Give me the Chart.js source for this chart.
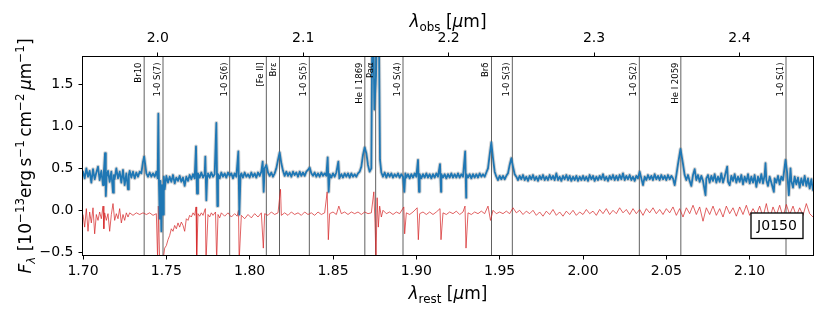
<!DOCTYPE html>
<html><head><meta charset="utf-8">
<script src="https://cdn.jsdelivr.net/npm/chart.js@4.4.0/dist/chart.umd.min.js"></script>
<style>html,body{margin:0;padding:0;background:#fff;}canvas{display:block;}</style>
</head><body>
<canvas id="c" width="830" height="312"></canvas>
<script>
// ---------------- data ----------------
const redshift = 0.1462;
const restRange = [1.70, 2.138];
const fluxRange = [-0.532, 1.825];

const restTicks = [1.70, 1.75, 1.80, 1.85, 1.90, 1.95, 2.00, 2.05, 2.10];
const restTickLabels = ['1.70','1.75','1.80','1.85','1.90','1.95','2.00','2.05','2.10'];
const obsTicks = [2.0, 2.1, 2.2, 2.3, 2.4];
const obsTickLabels = ['2.0','2.1','2.2','2.3','2.4'];
const fluxTicks = [-0.5, 0.0, 0.5, 1.0, 1.5];
const fluxTickLabels = ['\u22120.5','0.0','0.5','1.0','1.5'];

const lineNames = ['Br10','1-0 S(7)','1-0 S(6)','[Fe II]','Br\u03b5','1-0 S(5)','He I 1869','Pa\u03b1','1-0 S(4)','Br\u03b4','1-0 S(3)','1-0 S(2)','He I 2059','1-0 S(1)'];
const lineWaves = [1.7367, 1.7480, 1.7880, 1.8100, 1.8179, 1.8358, 1.8691, 1.8756, 1.8920, 1.9451, 1.9576, 2.0338, 2.0587, 2.1218];

const objectName = 'J0150';

// observed spectrum [rest wavelength (um), F_lambda]
const fluxSpectrum = [
[1.700,.46],[1.701,.38],[1.702,.50],[1.703,.40],[1.704,.47],[1.705,.33],[1.706,.49],[1.707,.37],[1.708,.45],[1.709,.52],
[1.710,.36],[1.711,.47],[1.712,.30],[1.7125,.45],[1.7132,.68],[1.7137,.17],[1.7142,.40],[1.715,.47],[1.716,.34],[1.717,.46],
[1.718,.21],[1.7185,.42],[1.719,.37],[1.720,.50],[1.721,.38],[1.722,.46],[1.723,.33],[1.724,.48],[1.725,.30],[1.726,.44],
[1.727,.25],[1.7275,.42],[1.728,.47],[1.729,.39],[1.730,.46],[1.731,.38],[1.732,.45],[1.733,.40],[1.734,.46],[1.735,.44],
[1.736,.58],[1.7367,.64],[1.7375,.52],[1.738,.44],[1.739,.40],[1.740,.45],[1.741,.40],[1.742,.44],[1.743,.40],[1.744,.46],
[1.7448,.38],[1.7452,1.15],[1.7456,.30],[1.746,-.10],[1.7465,.35],[1.747,-.25],[1.7475,.30],[1.748,-.05],[1.7485,.40],[1.749,.25],
[1.750,.41],[1.751,.33],[1.752,.40],[1.753,.34],[1.754,.42],[1.755,.32],[1.756,.39],[1.757,.35],[1.758,.41],[1.759,.34],
[1.760,.39],[1.761,.29],[1.762,.40],[1.763,.35],[1.764,.42],[1.765,.37],[1.766,.43],[1.767,.38],[1.7678,.76],[1.7684,.20],
[1.769,.44],[1.770,.39],[1.771,.45],[1.772,.39],[1.773,.43],[1.7734,.64],[1.7740,.12],[1.7745,.41],[1.775,.44],[1.776,.39],
[1.777,.45],[1.778,.40],[1.779,.43],[1.7800,1.04],[1.7806,.05],[1.781,.43],[1.782,.38],[1.783,.45],[1.784,.40],[1.785,.44],
[1.786,.39],[1.787,.45],[1.788,.41],[1.789,.44],[1.790,.38],[1.791,.44],[1.792,.40],[1.7932,.70],[1.7938,-.05],[1.7945,.41],
[1.795,.44],[1.796,.39],[1.797,.45],[1.798,.40],[1.799,.43],[1.800,.39],[1.801,.45],[1.802,.40],[1.803,.44],[1.804,.39],
[1.805,.45],[1.806,.41],[1.807,.46],[1.8078,.58],[1.8084,.22],[1.809,.50],[1.810,.54],[1.811,.45],[1.812,.41],[1.813,.45],
[1.814,.40],[1.815,.44],[1.816,.50],[1.817,.60],[1.818,.69],[1.819,.56],[1.820,.47],[1.821,.41],[1.822,.46],[1.823,.41],
[1.824,.45],[1.825,.40],[1.826,.46],[1.827,.42],[1.828,.45],[1.829,.40],[1.830,.46],[1.831,.41],[1.832,.45],[1.833,.41],
[1.834,.46],[1.835,.48],[1.836,.51],[1.837,.44],[1.838,.41],[1.839,.45],[1.840,.40],[1.841,.44],[1.842,.40],[1.843,.45],
[1.844,.41],[1.845,.44],[1.846,.41],[1.8468,.63],[1.8474,.22],[1.848,.43],[1.849,.39],[1.850,.44],[1.851,.40],[1.852,.45],
[1.8532,.58],[1.8538,.38],[1.855,.43],[1.856,.39],[1.857,.44],[1.858,.40],[1.859,.44],[1.860,.39],[1.861,.44],[1.862,.40],
[1.863,.43],[1.864,.40],[1.865,.44],[1.866,.46],[1.867,.52],[1.868,.66],[1.869,.75],[1.870,.68],[1.871,.54],[1.872,.46],
[1.873,.50],[1.8738,3.0],[1.8748,1.2],[1.8758,1.6],[1.8772,3.0],[1.8782,.60],[1.879,.45],[1.880,.40],[1.881,.45],[1.882,.39],
[1.883,.44],[1.884,.40],[1.885,.44],[1.886,.39],[1.887,.43],[1.888,.40],[1.889,.44],[1.890,.39],[1.891,.43],[1.892,.40],
[1.8928,.22],[1.8934,.44],[1.894,.39],[1.895,.43],[1.896,.38],[1.897,.43],[1.898,.39],[1.899,.44],[1.900,.40],[1.9010,.60],
[1.9016,.22],[1.902,.43],[1.903,.38],[1.904,.43],[1.905,.39],[1.906,.44],[1.907,.39],[1.908,.43],[1.909,.38],[1.910,.43],
[1.911,.39],[1.912,.44],[1.913,.40],[1.9142,.55],[1.9148,.22],[1.915,.43],[1.916,.39],[1.917,.43],[1.918,.38],[1.919,.43],
[1.920,.39],[1.921,.44],[1.922,.39],[1.923,.43],[1.924,.39],[1.925,.44],[1.926,.39],[1.927,.43],[1.928,.40],[1.9293,.70],
[1.9299,.15],[1.930,.43],[1.931,.39],[1.932,.43],[1.933,.38],[1.934,.43],[1.935,.39],[1.936,.43],[1.937,.39],[1.938,.44],
[1.939,.40],[1.940,.43],[1.941,.40],[1.942,.45],[1.943,.50],[1.944,.66],[1.9450,.81],[1.946,.62],[1.947,.46],[1.948,.40],
[1.949,.36],[1.950,.41],[1.951,.37],[1.952,.41],[1.953,.37],[1.954,.41],[1.955,.44],[1.956,.54],[1.957,.62],[1.958,.52],
[1.959,.43],[1.960,.40],[1.961,.36],[1.962,.41],[1.963,.37],[1.964,.42],[1.965,.36],[1.966,.40],[1.967,.35],[1.968,.41],
[1.969,.37],[1.970,.42],[1.971,.36],[1.972,.40],[1.973,.35],[1.974,.41],[1.975,.37],[1.976,.42],[1.977,.36],[1.978,.40],
[1.979,.36],[1.980,.42],[1.981,.37],[1.982,.41],[1.983,.36],[1.984,.44],[1.985,.36],[1.986,.40],[1.987,.35],[1.988,.41],
[1.989,.37],[1.990,.42],[1.991,.36],[1.992,.41],[1.993,.35],[1.994,.40],[1.995,.36],[1.996,.41],[1.997,.35],[1.998,.40],
[1.999,.36],[2.000,.41],[2.001,.36],[2.002,.40],[2.003,.35],[2.004,.42],[2.005,.37],[2.006,.41],[2.007,.35],[2.008,.40],
[2.009,.36],[2.010,.41],[2.011,.37],[2.012,.43],[2.013,.36],[2.014,.40],[2.015,.35],[2.016,.41],[2.017,.37],[2.018,.42],
[2.019,.36],[2.020,.41],[2.021,.36],[2.022,.42],[2.023,.37],[2.024,.44],[2.025,.36],[2.026,.41],[2.027,.37],[2.028,.42],
[2.029,.36],[2.030,.40],[2.031,.35],[2.032,.41],[2.033,.38],[2.034,.46],[2.035,.38],[2.036,.30],[2.037,.40],[2.038,.36],
[2.039,.42],[2.040,.37],[2.041,.41],[2.042,.36],[2.043,.43],[2.044,.37],[2.045,.41],[2.046,.36],[2.047,.42],[2.048,.37],
[2.049,.41],[2.050,.36],[2.051,.42],[2.052,.37],[2.053,.41],[2.054,.38],[2.055,.30],[2.056,.42],[2.057,.55],[2.0585,.73],
[2.060,.55],[2.061,.42],[2.062,.36],[2.063,.42],[2.064,.35],[2.065,.29],[2.066,.42],[2.067,.49],[2.068,.36],[2.069,.42],
[2.070,.34],[2.071,.41],[2.072,.35],[2.0735,.18],[2.074,.38],[2.075,.42],[2.076,.33],[2.077,.41],[2.078,.35],[2.079,.43],
[2.080,.33],[2.081,.40],[2.082,.34],[2.083,.44],[2.084,.33],[2.085,.40],[2.0865,.52],[2.087,.34],[2.088,.30],[2.089,.41],
[2.090,.35],[2.091,.43],[2.092,.33],[2.093,.40],[2.094,.34],[2.095,.42],[2.096,.31],[2.097,.40],[2.098,.34],[2.099,.43],
[2.100,.32],[2.101,.40],[2.102,.33],[2.103,.42],[2.104,.28],[2.105,.40],[2.106,.33],[2.107,.43],[2.108,.32],[2.109,.42],
[2.1095,.56],[2.110,.36],[2.111,.29],[2.112,.40],[2.113,.33],[2.1145,.22],[2.115,.38],[2.116,.33],[2.117,.41],[2.118,.31],
[2.119,.40],[2.120,.36],[2.1215,.60],[2.1225,.45],[2.1235,.18],[2.1245,.50],[2.125,.35],[2.126,.27],[2.127,.40],[2.128,.31],
[2.129,.39],[2.130,.27],[2.131,.38],[2.132,.30],[2.133,.41],[2.134,.29],[2.135,.38],[2.136,.26],[2.137,.37],[2.138,.24]
];

// residual spectrum [rest wavelength (um), residual]
const residualSpectrum = [
[1.700,-0.05],[1.701,-0.20],[1.702,0.02],[1.703,-0.25],[1.704,-0.02],[1.705,-0.15],[1.706,0.03],[1.707,-0.28],[1.708,-0.05],[1.709,-0.12],
[1.710,-0.02],[1.711,-0.10],[1.712,0.05],[1.7125,-0.22],[1.713,-0.03],[1.714,-0.12],[1.715,-0.04],[1.716,-0.25],[1.717,-0.05],[1.718,0.08],
[1.719,-0.12],[1.720,-0.04],[1.721,-0.10],[1.722,0.02],[1.723,-0.15],[1.724,-0.05],[1.725,-0.12],[1.726,-0.03],[1.727,-0.08],[1.728,-0.03],
[1.730,-0.06],[1.732,-0.03],[1.734,-0.05],[1.736,-0.03],[1.738,-0.05],[1.740,-0.03],[1.742,-0.06],[1.744,-0.04],[1.7448,-0.60],[1.7452,0.05],
[1.746,-0.60],[1.747,-0.70],[1.748,-0.60],[1.749,-0.45],[1.750,-0.42],[1.751,-0.35],[1.752,-0.30],[1.753,-0.22],[1.754,-0.25],[1.755,-0.18],
[1.756,-0.22],[1.757,-0.15],[1.758,-0.20],[1.759,-0.14],[1.760,-0.18],[1.761,-0.25],[1.762,-0.10],[1.763,-0.12],[1.764,-0.06],[1.765,-0.08],
[1.766,-0.03],[1.767,-0.06],[1.7678,0.04],[1.7682,-0.60],[1.769,-0.04],[1.770,-0.07],[1.771,-0.03],[1.772,-0.06],[1.7734,0.02],[1.7738,-0.60],
[1.775,-0.05],[1.776,-0.08],[1.777,-0.03],[1.778,-0.06],[1.7795,-0.02],[1.7802,-0.60],[1.781,-0.05],[1.782,-0.09],[1.783,-0.03],[1.785,-0.07],
[1.787,-0.03],[1.789,-0.08],[1.791,-0.04],[1.7925,-0.07],[1.7933,0.00],[1.7937,-0.60],[1.795,-0.06],[1.797,-0.10],[1.799,-0.05],[1.801,-0.09],
[1.803,-0.04],[1.805,-0.08],[1.807,-0.03],[1.8082,-0.45],[1.809,-0.04],[1.811,-0.06],[1.813,-0.02],[1.815,-0.05],[1.817,-0.03],[1.8185,0.25],
[1.819,-0.06],[1.821,-0.03],[1.823,-0.06],[1.825,-0.02],[1.827,-0.05],[1.829,-0.03],[1.831,-0.06],[1.833,-0.02],[1.835,-0.05],[1.837,-0.03],
[1.839,-0.06],[1.841,-0.02],[1.843,-0.05],[1.845,-0.03],[1.8465,0.22],[1.8472,-0.35],[1.848,-0.04],[1.850,-0.02],[1.852,-0.05],[1.8535,0.05],
[1.855,-0.04],[1.857,-0.02],[1.859,-0.05],[1.861,-0.02],[1.863,-0.04],[1.865,-0.02],[1.867,-0.05],[1.869,-0.02],[1.871,-0.04],[1.873,-0.03],
[1.8745,0.22],[1.8752,-0.15],[1.8758,-0.60],[1.8765,0.15],[1.8772,-0.20],[1.878,0.05],[1.879,-0.08],[1.880,0.00],[1.882,-0.04],[1.884,-0.02],
[1.886,-0.05],[1.888,-0.02],[1.890,-0.04],[1.8925,0.04],[1.8930,-0.28],[1.894,-0.03],[1.896,-0.05],[1.898,-0.02],[1.9005,0.03],[1.9012,-0.35],
[1.902,-0.04],[1.904,-0.02],[1.906,-0.05],[1.908,-0.02],[1.910,-0.05],[1.912,-0.02],[1.9142,0.02],[1.9148,-0.35],[1.916,-0.03],[1.918,-0.05],
[1.920,-0.02],[1.922,-0.04],[1.924,-0.01],[1.926,-0.05],[1.928,-0.02],[1.9292,0.05],[1.9298,-0.45],[1.931,-0.03],[1.933,-0.05],[1.935,-0.02],
[1.937,-0.04],[1.939,-0.01],[1.941,-0.04],[1.943,0.05],[1.9445,-0.12],[1.946,0.00],[1.948,-0.04],[1.950,-0.02],[1.952,-0.04],[1.954,-0.01],
[1.956,-0.04],[1.958,0.03],[1.960,-0.03],[1.962,0.00],[1.964,-0.05],[1.966,-0.01],[1.968,-0.04],[1.970,0.00],[1.972,-0.06],[1.974,-0.02],
[1.976,-0.07],[1.978,-0.01],[1.980,-0.05],[1.982,0.01],[1.984,-0.06],[1.986,-0.02],[1.988,-0.07],[1.990,-0.01],[1.992,-0.05],[1.994,0.00],
[1.996,-0.06],[1.998,-0.02],[2.000,-0.05],[2.002,0.01],[2.004,-0.04],[2.006,-0.01],[2.008,-0.06],[2.010,0.01],[2.012,-0.04],[2.014,0.02],
[2.016,-0.05],[2.018,0.00],[2.020,-0.04],[2.022,0.03],[2.024,-0.03],[2.026,0.01],[2.028,-0.05],[2.030,0.02],[2.032,-0.04],[2.034,0.01],
[2.036,-0.06],[2.038,0.02],[2.040,-0.03],[2.042,0.03],[2.044,-0.04],[2.046,0.01],[2.048,-0.05],[2.050,0.02],[2.052,-0.03],[2.054,0.04],
[2.056,-0.06],[2.058,0.02],[2.060,-0.08],[2.062,0.03],[2.064,-0.04],[2.066,0.06],[2.068,-0.05],[2.070,0.04],[2.072,-0.13],[2.074,0.03],
[2.076,-0.05],[2.078,0.05],[2.080,-0.06],[2.082,0.02],[2.084,-0.08],[2.086,0.05],[2.088,-0.04],[2.090,0.03],[2.092,-0.07],[2.094,0.04],
[2.096,-0.05],[2.098,0.06],[2.100,-0.06],[2.102,0.02],[2.104,-0.05],[2.106,0.05],[2.108,-0.08],[2.110,0.08],[2.112,-0.10],[2.114,0.04],
[2.116,-0.06],[2.118,0.06],[2.120,-0.08],[2.122,0.07],[2.124,-0.05],[2.126,0.05],[2.128,-0.07],[2.130,0.03],[2.132,-0.06],[2.134,0.08],
[2.136,-0.04],[2.138,-0.08]
];

// ---------------- drawing ----------------
const FAMILY = '"DejaVu Sans"';
Chart.defaults.font.family = FAMILY;
Chart.defaults.color = '#000';

function toXY(arr){ return arr.map(p => ({x: p[0], y: p[1]})); }

function drawRich(ctx, segs, x, y, size){
  const items = segs.map(([t, k]) => {
    const small = k.indexOf('sub') === 0 || k.indexOf('sup') === 0;
    const fs = small ? size * 0.7 : size;
    const ital = k === 'i' || k === 'subi' || k === 'supi';
    const font = (ital ? 'italic ' : '') + fs + 'px ' + FAMILY;
    ctx.font = font;
    const dy = k.indexOf('sub') === 0 ? size * 0.22 : (k.indexOf('sup') === 0 ? -size * 0.42 : 0);
    return {t, font, dy, w: ctx.measureText(t).width};
  });
  const total = items.reduce((a, b) => a + b.w, 0);
  let cx = x - total / 2;
  ctx.textAlign = 'left';
  ctx.textBaseline = 'alphabetic';
  items.forEach(it => { ctx.font = it.font; ctx.fillText(it.t, cx, y + it.dy); cx += it.w; });
}

const decorPlugin = {
  id: 'decor',
  beforeDatasetsDraw(chart){
    const {ctx, chartArea: a, scales} = chart;
    ctx.save();
    ctx.beginPath(); ctx.rect(a.left, a.top, a.right - a.left, a.bottom - a.top); ctx.clip();
    ctx.strokeStyle = 'rgba(0,0,0,0.62)';
    ctx.lineWidth = 1;
    lineWaves.forEach(w => {
      const x = scales.x.getPixelForValue(w);
      ctx.beginPath(); ctx.moveTo(x, a.top); ctx.lineTo(x, a.bottom); ctx.stroke();
    });
    ctx.restore();
  },
  afterDatasetsDraw(chart){
    const {ctx, chartArea: a, scales} = chart;
    ctx.save();
    ctx.fillStyle = '#000';
    ctx.font = '8.5px ' + FAMILY;
    lineWaves.forEach((w, i) => {
      const x = scales.x.getPixelForValue(w);
      ctx.save();
      ctx.translate(x - 1, a.top + 5.5);
      ctx.rotate(-Math.PI / 2);
      ctx.textAlign = 'right';
      ctx.textBaseline = 'bottom';
      ctx.fillText(lineNames[i], 0, 0);
      ctx.restore();
    });
    // object label box
    const bx = 751, by = 213, bw = 52, bh = 25.5;
    ctx.fillStyle = '#fff';
    ctx.fillRect(bx, by, bw, bh);
    ctx.strokeStyle = '#000'; ctx.lineWidth = 1.3;
    ctx.strokeRect(bx, by, bw, bh);
    ctx.fillStyle = '#000';
    ctx.font = '14px ' + FAMILY;
    ctx.textAlign = 'center'; ctx.textBaseline = 'middle';
    ctx.fillText(objectName, bx + bw / 2, by + bh / 2 + 0.5);
    ctx.restore();
  },
  afterDraw(chart){
    const {ctx, chartArea: a} = chart;
    ctx.save();
    ctx.strokeStyle = '#000'; ctx.lineWidth = 1;
    ctx.strokeRect(a.left - 0.5, a.top - 0.5, a.right - a.left + 1, a.bottom - a.top + 1);
    ctx.fillStyle = '#000';
    const cx = (a.left + a.right) / 2;
    drawRich(ctx, [['\u03bb','i'],['rest','sub'],[' [','n'],['\u03bc','i'],['m]','n']], cx, 299, 17);
    drawRich(ctx, [['\u03bb','i'],['obs','sub'],[' [','n'],['\u03bc','i'],['m]','n']], cx, 27, 17);
    ctx.translate(31, (a.top + a.bottom) / 2);
    ctx.rotate(-Math.PI / 2);
    drawRich(ctx, [['F','i'],['\u03bb','subi'],[' [10','n'],['\u221213','sup'],['erg\u2009s','n'],['\u22121','sup'],['\u2009cm','n'],['\u22122','sup'],['\u2009','n'],['\u03bc','i'],['m','n'],['\u22121','sup'],[']','n']], 0, 0, 17);
    ctx.restore();
  }
};

const tickFont = {family: FAMILY, size: 14};
const gridCfg = {display: true, drawOnChartArea: false, drawTicks: true, tickLength: 4.5, tickColor: '#000', tickWidth: 1};

new Chart(document.getElementById('c'), {
  type: 'scatter',
  data: {
    datasets: [
      {data: toXY(fluxSpectrum), showLine: true, borderColor: '#1f77b4', borderWidth: 1.8, borderJoinStyle: 'round', borderCapStyle: 'round', pointRadius: 0, xAxisID: 'x', yAxisID: 'y'},
      {data: toXY(fluxSpectrum), showLine: true, borderColor: 'rgba(110,110,110,0.3)', borderWidth: 3.8, borderJoinStyle: 'round', borderCapStyle: 'round', pointRadius: 0, xAxisID: 'x', yAxisID: 'y'},
      {data: toXY(residualSpectrum), showLine: true, borderColor: 'rgba(214,39,40,0.72)', borderWidth: 1, borderJoinStyle: 'round', pointRadius: 0, xAxisID: 'x', yAxisID: 'y'}
    ]
  },
  options: {
    responsive: false, animation: false, devicePixelRatio: 1,
    layout: {padding: {left: 0, right: 17, top: 0, bottom: 0}},
    plugins: {legend: {display: false}, tooltip: {enabled: false}},
    scales: {
      x: {
        type: 'linear', position: 'bottom', min: restRange[0], max: restRange[1],
        afterFit(s){ s.height = 57; },
        afterBuildTicks(s){ s.ticks = restTicks.map(v => ({value: v})); },
        ticks: {font: tickFont, color: '#000', padding: 3, maxRotation: 0, autoSkip: false,
                callback: (v, i) => restTickLabels[i]},
        grid: gridCfg, border: {display: false}
      },
      x2: {
        type: 'linear', position: 'top',
        min: restRange[0] * (1 + redshift), max: restRange[1] * (1 + redshift),
        afterFit(s){ s.height = 57; },
        afterBuildTicks(s){ s.ticks = obsTicks.map(v => ({value: v})); },
        ticks: {font: tickFont, color: '#000', padding: 6, maxRotation: 0, autoSkip: false,
                callback: (v, i) => obsTickLabels[i]},
        grid: gridCfg, border: {display: false}
      },
      y: {
        type: 'linear', position: 'left', min: fluxRange[0], max: fluxRange[1],
        afterFit(s){ s.width = 83; },
        afterBuildTicks(s){ s.ticks = fluxTicks.map(v => ({value: v})); },
        ticks: {font: tickFont, color: '#000', padding: 5, autoSkip: false,
                callback: (v, i) => fluxTickLabels[i]},
        grid: gridCfg, border: {display: false}
      }
    }
  },
  plugins: [decorPlugin]
});
</script>
</body></html>
